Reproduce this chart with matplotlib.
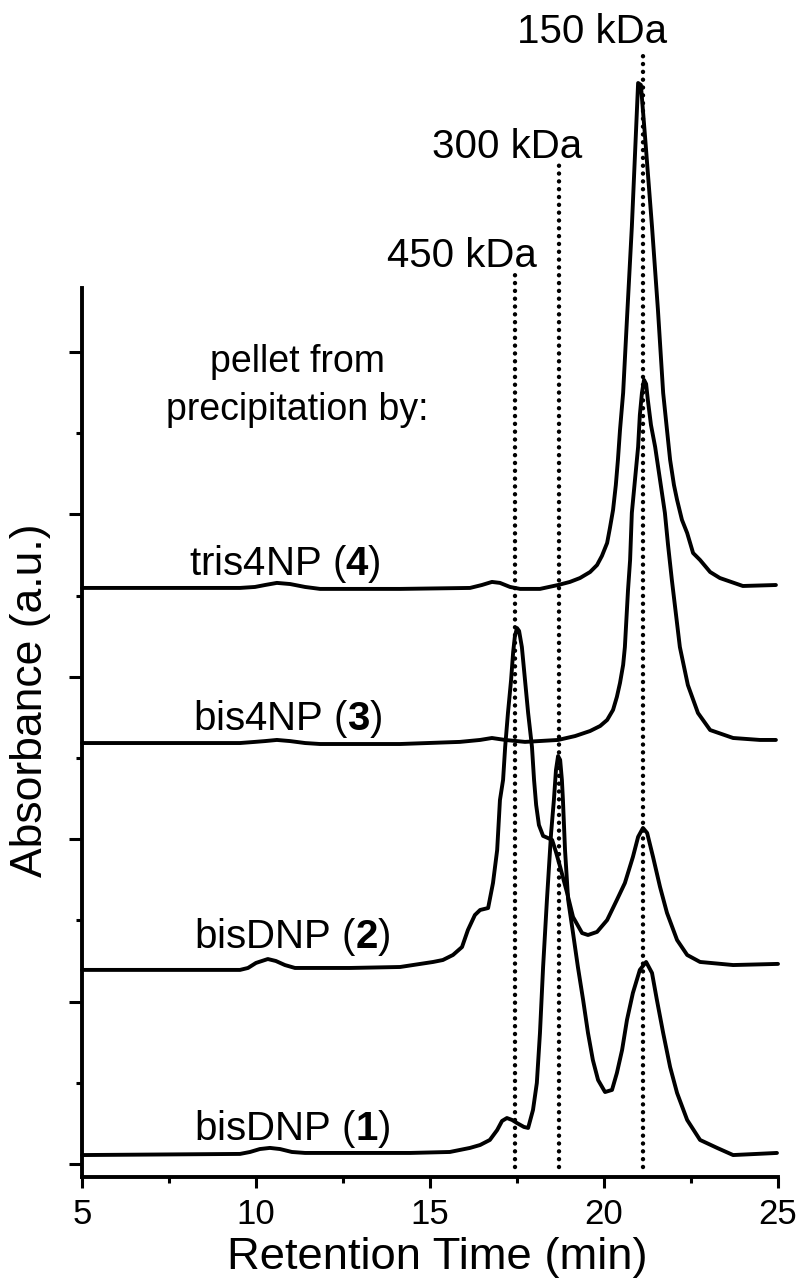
import matplotlib
matplotlib.use("Agg")
import matplotlib.pyplot as plt
from matplotlib.ticker import MultipleLocator

plt.rcParams['font.family'] = ['Liberation Sans', 'DejaVu Sans']
plt.rcParams['mathtext.fontset'] = 'custom'
plt.rcParams['mathtext.rm'] = 'Liberation Sans'
plt.rcParams['mathtext.bf'] = 'Liberation Sans:bold'

# retention time (min) / stacked absorbance (a.u.)
t1 = [5.0, 9.54, 9.83, 10.11, 10.40, 10.69, 11.03, 11.41, 12.70, 14.43,
      15.57, 16.15, 16.44, 16.72, 16.93, 17.07, 17.21, 17.36, 17.50, 17.70,
      17.82, 17.96, 18.07, 18.16, 18.25, 18.36, 18.48, 18.56, 18.62, 18.68,
      18.74, 18.79, 18.82, 18.88, 18.97, 19.11, 19.25, 19.40, 19.54, 19.68,
      19.83, 20.03, 20.23, 20.37, 20.52, 20.66, 20.83, 21.03, 21.21, 21.38,
      21.52, 21.70, 21.90, 22.10, 22.39, 22.76, 23.25, 23.71, 24.97]
a1 = [0.055, 0.062, 0.074, 0.092, 0.099, 0.092, 0.074, 0.068, 0.068, 0.068,
      0.074, 0.099, 0.117, 0.148, 0.209, 0.265, 0.283, 0.271, 0.252, 0.228,
      0.222, 0.333, 0.499, 0.807, 1.213, 1.626, 2.038, 2.241, 2.426, 2.512,
      2.488, 2.365, 2.241, 1.933, 1.626, 1.422, 1.213, 1.010, 0.807, 0.640,
      0.517, 0.443, 0.456, 0.560, 0.702, 0.887, 1.053, 1.195, 1.244, 1.176,
      1.010, 0.807, 0.597, 0.437, 0.271, 0.148, 0.099, 0.055, 0.068]

t2 = [5.0, 9.54, 9.77, 10.00, 10.34, 10.57, 10.83, 11.12, 12.70, 14.14,
      15.09, 15.37, 15.66, 15.92, 16.09, 16.29, 16.44, 16.67, 16.81, 16.93,
      17.01, 17.10, 17.16, 17.24, 17.33, 17.39, 17.44, 17.50, 17.56, 17.64,
      17.73, 17.82, 17.93, 17.99, 18.05, 18.13, 18.25, 18.39, 18.51, 18.62,
      18.74, 18.94, 19.11, 19.37, 19.54, 19.80, 20.09, 20.37, 20.60, 20.83,
      20.98, 21.12, 21.24, 21.41, 21.61, 21.81, 22.10, 22.39, 22.76, 23.71,
      25.0]
a2 = [1.195, 1.195, 1.207, 1.238, 1.262, 1.250, 1.225, 1.207, 1.207, 1.213,
      1.244, 1.256, 1.287, 1.336, 1.441, 1.533, 1.564, 1.576, 1.730, 1.933,
      2.241, 2.365, 2.568, 2.777, 2.980, 3.153, 3.251, 3.300, 3.282, 3.183,
      2.980, 2.777, 2.568, 2.365, 2.211, 2.087, 2.020, 2.007, 1.995, 1.921,
      1.829, 1.669, 1.521, 1.422, 1.410, 1.429, 1.502, 1.626, 1.730, 1.890,
      2.014, 2.069, 2.038, 1.890, 1.706, 1.546, 1.379, 1.287, 1.244, 1.225,
      1.232]

t3 = [5.0, 9.54, 9.97, 10.26, 10.60, 10.98, 11.41, 11.84, 14.14, 15.86,
      16.44, 16.78, 17.16, 17.73, 18.68, 19.17, 19.60, 19.89, 20.09, 20.26,
      20.37, 20.46, 20.55, 20.60, 20.69, 20.75, 20.80, 20.89, 20.98, 21.03,
      21.09, 21.15, 21.21, 21.26, 21.35, 21.47, 21.61, 21.75, 21.84, 21.95,
      22.07, 22.18, 22.41, 22.70, 23.05, 23.71, 24.48, 24.94]
a3 = [2.592, 2.592, 2.599, 2.604, 2.611, 2.604, 2.592, 2.586, 2.586, 2.599,
      2.611, 2.623, 2.611, 2.599, 2.611, 2.635, 2.666, 2.697, 2.734, 2.796,
      2.876, 2.962, 3.073, 3.183, 3.534, 3.719, 4.009, 4.212, 4.415, 4.612,
      4.748, 4.828, 4.803, 4.704, 4.550, 4.415, 4.212, 4.009, 3.812, 3.596,
      3.381, 3.183, 2.949, 2.777, 2.672, 2.623, 2.611, 2.611]

t4 = [5.0, 8.39, 9.54, 9.97, 10.26, 10.60, 10.98, 11.41, 11.84, 14.14,
      16.15, 16.49, 16.78, 17.01, 17.30, 17.59, 18.16, 18.68, 19.02, 19.31,
      19.60, 19.80, 19.94, 20.09, 20.17, 20.26, 20.34, 20.40, 20.46, 20.55,
      20.66, 20.80, 20.89, 20.98, 21.06, 21.18, 21.38, 21.55, 21.70, 21.81,
      21.90, 22.01, 22.10, 22.24, 22.39, 22.56, 22.76, 23.05, 23.33, 23.99,
      24.94]
a4 = [3.547, 3.547, 3.547, 3.553, 3.565, 3.578, 3.571, 3.553, 3.541, 3.541,
      3.547, 3.565, 3.584, 3.578, 3.553, 3.541, 3.541, 3.565, 3.584, 3.608,
      3.645, 3.688, 3.744, 3.824, 3.916, 4.027, 4.181, 4.335, 4.520, 4.748,
      5.203, 5.770, 6.213, 6.656, 6.644, 6.324, 5.770, 5.259, 4.748, 4.520,
      4.335, 4.181, 4.089, 3.966, 3.885, 3.762, 3.719, 3.645, 3.608, 3.559,
      3.565]

# sample labels: text, x centre, baseline
sample_labels = [r"bisDNP ($\mathbf{1}$)", r"bisDNP ($\mathbf{2}$)",
                 r"bis4NP ($\mathbf{3}$)", r"tris4NP ($\mathbf{4}$)"]
sample_lx = [11.03, 11.03, 10.92, 10.83]
sample_ly = [0.148, 1.330, 2.672, 3.627]

# molecular weight standards
std_labels = ["450 kDa", "300 kDa", "150 kDa"]
std_times = [17.44, 18.70, 21.12]
std_tops = [5.486, 6.170, 6.860]
std_lx = [15.92, 17.21, 19.66]
std_ly = [5.523, 6.195, 6.903]

fig = plt.figure(figsize=(8, 12.81), dpi=100)
ax = fig.add_axes([0.1025, 0.0812, 0.87, 0.694])

for t, a in [(t1, a1), (t2, a2), (t3, a3), (t4, a4)]:
    ax.plot(t, a, color='black', lw=2.8, clip_on=False,
            solid_joinstyle='round', solid_capstyle='round')

for t, top in zip(std_times, std_tops):
    ax.plot([t, t], [-0.018, top], color='black', lw=3.2, clip_on=False,
            linestyle=(0, (0.01, 1.75)), dash_capstyle='round')

for s, x, y in zip(std_labels, std_lx, std_ly):
    ax.text(x, y, s, ha='center', va='baseline', fontsize=29)

for s, x, y in zip(sample_labels, sample_lx, sample_ly):
    ax.text(x, y, s, ha='center', va='baseline', fontsize=29)

ax.text(11.18, 4.877, "pellet from", ha='center', va='baseline', fontsize=27)
ax.text(11.18, 4.581, "precipitation by:", ha='center', va='baseline', fontsize=27)

ax.set_xlim(5, 25)
ax.set_ylim(-0.08, 5.394)
ax.spines['top'].set_visible(False)
ax.spines['right'].set_visible(False)
for side in ['left', 'bottom']:
    ax.spines[side].set_linewidth(2.8)

ax.xaxis.set_major_locator(MultipleLocator(5))
ax.xaxis.set_minor_locator(MultipleLocator(2.5))
ax.yaxis.set_major_locator(MultipleLocator(1))
ax.yaxis.set_minor_locator(MultipleLocator(0.5))
ax.set_yticklabels([])
ax.tick_params(axis='x', which='major', length=8, width=2.2, direction='out',
               labelsize=25, pad=7)
ax.tick_params(axis='x', which='minor', length=4, width=2.2, direction='out')
ax.tick_params(axis='y', which='major', length=9.5, width=2.2, direction='out')
ax.tick_params(axis='y', which='minor', length=4.5, width=2.2, direction='out')
ax.tick_params(axis='y', which='both', labelleft=False)

fig.text(437 / 800, 1 - 1257 / 1281, "Retention Time (min)", ha='center',
         va='center', fontsize=32.7)
fig.text(31 / 800, 1 - 700 / 1281, "Absorbance (a.u.)", ha='center',
         va='center', rotation=90, fontsize=32)

fig.savefig("out.png", dpi=100)
